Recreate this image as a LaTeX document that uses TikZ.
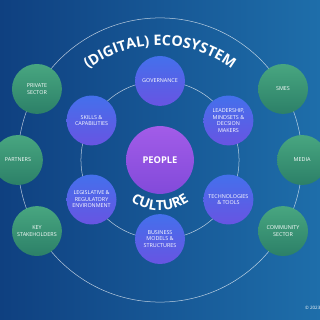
\documentclass[tikz,border=0pt]{standalone}
\usepackage{fontspec}
\setmainfont{Open Sans}
\usetikzlibrary{decorations.text}

\definecolor{bgleft}{RGB}{15,64,128}
\definecolor{bgright}{RGB}{30,110,170}
\definecolor{greentop}{RGB}{72,166,128}
\definecolor{greenbot}{RGB}{44,128,104}
\definecolor{bluetop}{RGB}{68,112,236}
\definecolor{bluebot}{RGB}{104,84,226}
\definecolor{purpletop}{RGB}{162,92,232}
\definecolor{purplebot}{RGB}{130,74,218}

\newcommand{\ecofont}{\fontsize{12.8}{13}\selectfont\bfseries}
\newcommand{\culturefont}{\fontsize{12.3}{13}\selectfont\bfseries}

\begin{document}
\begin{tikzpicture}[
  ring/.style={white, opacity=0.7, line width=0.45pt},
  partner/.style={circle, minimum size=1.56cm, inner sep=0pt, top color=greentop,
    bottom color=greenbot, text=white, align=center, font=\fontsize{4.8}{5.8}\selectfont},
  area/.style={partner, top color=bluetop, bottom color=bluebot},
  core/.style={partner, minimum size=2.12cm, top color=purpletop, bottom color=purplebot,
    font=\fontsize{8.3}{9}\selectfont\bfseries}]
% background
\clip (-5,-5) rectangle (5,5);
\shade[left color=bgleft, right color=bgright] (-5,-5) rectangle (5,5);
\coordinate (c) at (0,0);
% rings
\draw[ring] (c) circle (4.44);
\draw[ring] (c) circle (2.47);
% ecosystem
\node[partner] (private) at (150:4.44) {PRIVATE\\SECTOR};
\node[partner] (partners) at (180:4.44) {PARTNERS};
\node[partner] (stake) at (210:4.44) {KEY\\STAKEHOLDERS};
\node[partner] (smes) at (30:4.44) {SMES};
\node[partner] (media) at (0:4.44) {MEDIA};
\node[partner] (community) at (330:4.44) {COMMUNITY\\SECTOR};
% culture
\node[area] (gov) at (90:2.47) {GOVERNANCE};
\node[area] (lead) at (30:2.47) {LEADERSHIP,\\MINDSETS \&\\DECSION\\MAKERS};
\node[area] (tech) at (330:2.47) {TECHNOLOGIES\\\& TOOLS};
\node[area] (business) at (270:2.47) {BUSINESS\\MODELS \&\\STRUCTURES};
\node[area] (legis) at (210:2.47) {LEGISLATIVE \&\\REGULATORY\\ENVIRONMENT};
\node[area] (skills) at (150:2.47) {SKILLS \&\\CAPABILITIES};
% people
\node[core] (people) at (c) {PEOPLE};
% curved titles
\path[decorate, decoration={text along path, text align=center, text color=white,
  text={|\ecofont|(DIGITAL) ECOSYSTEM}}]
  (0,-0.16) ++(160:3.75) arc[start angle=160, end angle=20, radius=3.75];
\path[decorate, decoration={text along path, text align=center, text color=white,
  text={|\culturefont|CULTURE}}]
  (200:1.58) arc[start angle=200, end angle=340, radius=1.58];
% copyright
\node[anchor=west, inner sep=0pt, text=white, font=\fontsize{4}{4}\selectfont] (copy) at (4.53,-4.63) {© 2023};
\end{tikzpicture}
\end{document}
